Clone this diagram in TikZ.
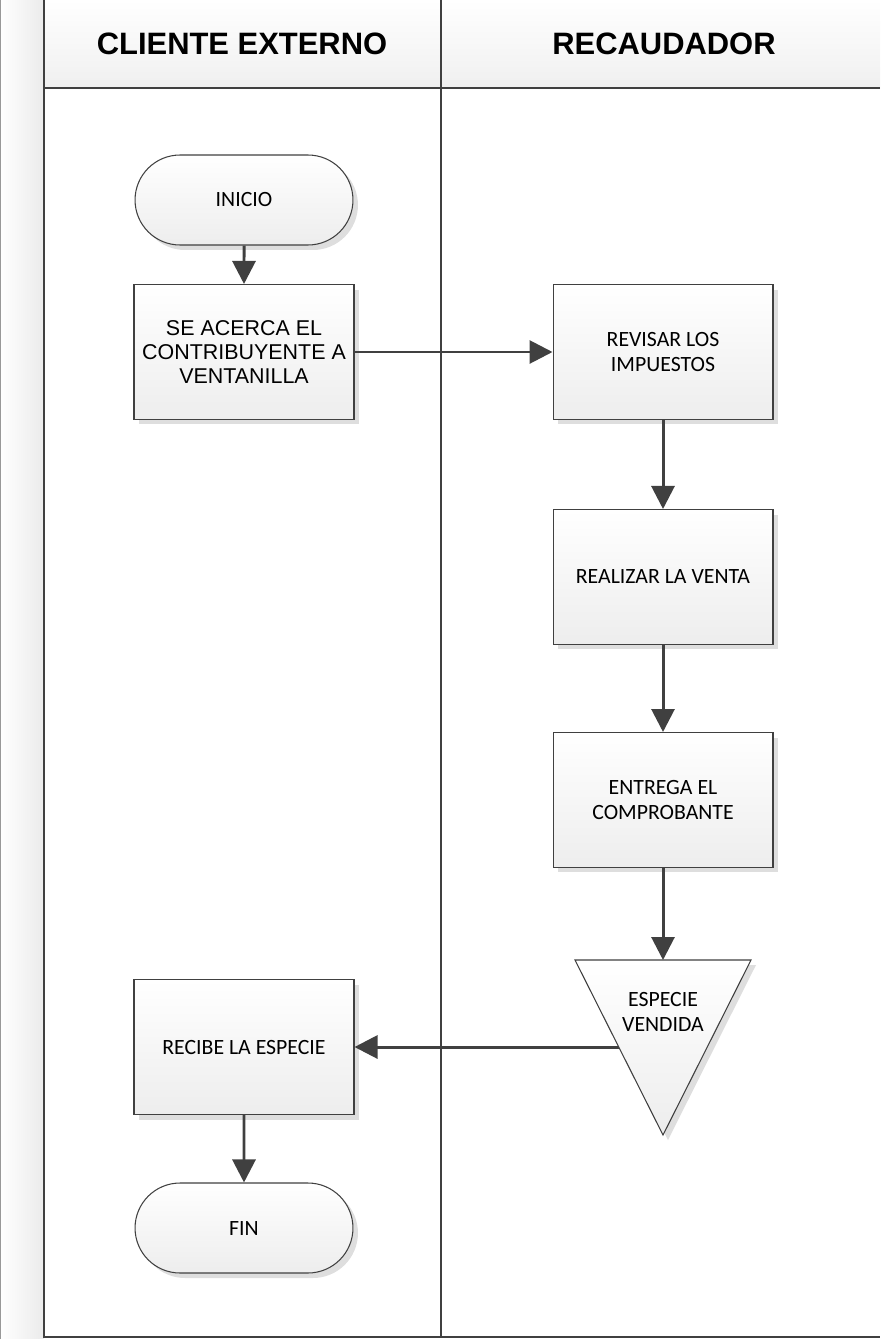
\documentclass[tikz,border=0pt]{standalone}
\usepackage{fontspec}
\setmainfont{Carlito}
\newfontfamily\arialfont{Liberation Sans}
\usetikzlibrary{arrows.meta,shapes.misc,shadows}
\definecolor{linegray}{HTML}{404040}

\begin{document}
\begin{tikzpicture}[x=0.02cm,y=-0.02cm,
  lane/.style={draw=linegray,line width=1.3pt},
  title/.style={font=\arialfont\bfseries\fontsize{17.6}{20}\selectfont},
  box/.style={draw=linegray,line width=0.6pt,top color=white,bottom color=black!7,
    drop shadow={shadow xshift=0.1cm,shadow yshift=-0.1cm,fill=black!13,opacity=1},
    minimum width=4.4cm,minimum height=2.7cm,inner sep=2pt,align=center,
    font=\fontsize{12.4}{14}\selectfont},
  term/.style={box,rounded rectangle,minimum width=4.5cm,minimum height=1.8cm},
  flow/.style={draw=linegray,line width=1.7pt,-{Triangle[length=0.46cm,width=0.46cm]}}]

\useasboundingbox (0,0) rectangle (880,1339);

% lanes and header
\shade[left color=white,right color=black!8] (0,0) rectangle (44,1339);
\draw[black!40,line width=0.8pt] (0.5,0) -- (0.5,1339);
\shade[top color=white,bottom color=black!6] (44,0) rectangle (880,88);
\draw[lane] (44,0) -- (44,1337) -- (880,1337);
\draw[lane] (44,88) -- (880,88);
\draw[lane] (441,0) -- (441,1337);

\node[title] (T1) at (242,44) {CLIENTE EXTERNO};
\node[title] (T2) at (664,44) {RECAUDADOR};

% cliente externo
\node[term] (C0) at (244,200) {INICIO};
\node[box,font=\arialfont\fontsize{12.2}{13.8}\selectfont] (C1) at (244,352) {SE ACERCA EL\\CONTRIBUYENTE A\\VENTANILLA};
\node[box] (C2) at (244,1047) {RECIBE LA ESPECIE};
\node[term] (C3) at (244,1228) {FIN};

% recaudador
\node[box] (R1) at (663,352) {REVISAR LOS\\IMPUESTOS};
\node[box] (R2) at (663,577) {REALIZAR LA VENTA};
\node[box] (R3) at (663,800) {ENTREGA EL\\COMPROBANTE};

\filldraw[draw=linegray,line width=0.6pt,top color=white,bottom color=black!7,
  drop shadow={shadow xshift=0.1cm,shadow yshift=-0.1cm,fill=black!13,opacity=1}]
  (575,960) -- (751,960) -- (663,1135) -- cycle;
\coordinate (R4top) at (663,960);
\coordinate (R4left) at (619,1047);
\node[font=\fontsize{12.4}{14}\selectfont,align=center] (R4) at (663,1012) {ESPECIE\\VENDIDA};

\draw[flow] (C0) -- (C1);
\draw[flow] (C1) -- (R1);
\draw[flow] (R1) -- (R2);
\draw[flow] (R2) -- (R3);
\draw[flow] (R3) -- (R4top);
\draw[flow] (R4left) -- (C2);
\draw[flow] (C2) -- (C3);

\end{tikzpicture}
\end{document}
